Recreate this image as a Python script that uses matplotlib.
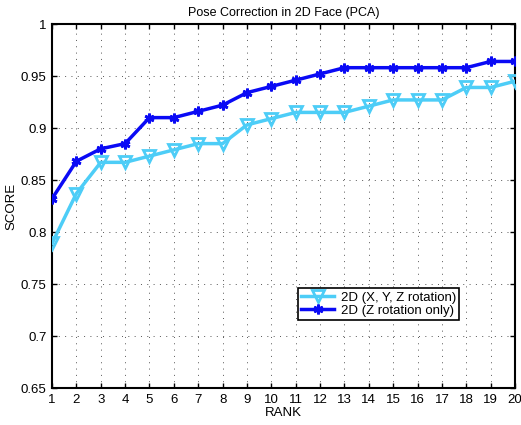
import matplotlib
matplotlib.use("Agg")
import matplotlib.pyplot as plt

plt.rcParams['font.family'] = ['Liberation Sans', 'DejaVu Sans']

rank = list(range(1, 21))
xyz_rot = [0.789, 0.837, 0.867, 0.867, 0.873, 0.879, 0.885, 0.885, 0.903, 0.909,
           0.915, 0.915, 0.915, 0.921, 0.927, 0.927, 0.927, 0.939, 0.939, 0.945]
z_rot = [0.832, 0.868, 0.880, 0.885, 0.910, 0.910, 0.916, 0.922, 0.934, 0.940,
         0.946, 0.952, 0.958, 0.958, 0.958, 0.958, 0.958, 0.958, 0.964, 0.964]
yticks = [0.65, 0.7, 0.75, 0.8, 0.85, 0.9, 0.95, 1]
ytick_labels = ['0.65', '0.7', '0.75', '0.8', '0.85', '0.9', '0.95', '1']

fig = plt.figure(figsize=(5.21, 4.25), dpi=100)
ax = fig.add_axes([0.0998, 0.087, 0.8887, 0.8565])

ax.plot(rank, xyz_rot, color='#4dcdf7', lw=2.5, marker='v', ms=9,
        mfc='none', mec='#4dcdf7', mew=2, label='2D (X, Y, Z rotation)', zorder=3)
ax.plot(rank, z_rot, color='#0a0af5', lw=2.5, marker=(6, 2, 0), ms=7,
        mec='#0a0af5', mew=2, label='2D (Z rotation only)', zorder=4)

ax.set_xlim(1, 20)
ax.set_ylim(0.65, 1)
ax.set_xticks(rank)
ax.set_yticks(yticks)
ax.set_yticklabels(ytick_labels)
ax.tick_params(direction='in', labelsize=9.5, length=3.5, top=True, right=True, width=1, pad=4)
ax.grid(True, linestyle=(0, (1, 5.5)), color='#555555', lw=0.7)
for s in ax.spines.values():
    s.set_linewidth(1.5)

ax.set_title('Pose Correction in 2D Face (PCA)', fontsize=9, pad=6)
ax.set_xlabel('RANK', fontsize=9.5, labelpad=1)
ax.set_ylabel('SCORE', fontsize=9.5, labelpad=2)

leg = ax.legend(loc='lower left', bbox_to_anchor=(0.531, 0.187), fontsize=9.5,
                fancybox=False, framealpha=1, edgecolor='black',
                borderpad=0.25, labelspacing=0.05, handlelength=2.5,
                handletextpad=0.5, borderaxespad=0)
leg.get_frame().set_linewidth(1.2)

fig.savefig('out.png', dpi=100)
